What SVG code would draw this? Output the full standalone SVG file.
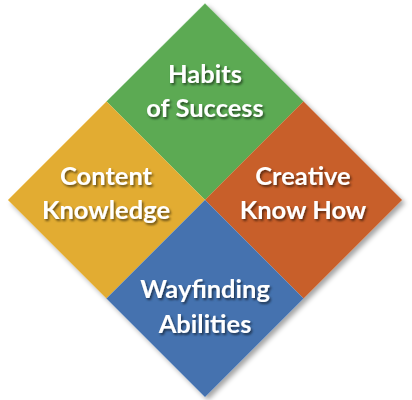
<svg xmlns="http://www.w3.org/2000/svg" width="412" height="400" viewBox="0 0 412 400">
<defs>
<filter id="boxShadow" x="-10%" y="-10%" width="125%" height="125%">
<feDropShadow dx="3" dy="3" stdDeviation="2.5" flood-color="#000" flood-opacity="0.35"/>
</filter>
<filter id="textShadow" x="-10%" y="-20%" width="130%" height="160%">
<feDropShadow dx="1.5" dy="2" stdDeviation="1.2" flood-color="#000" flood-opacity="0.55"/>
</filter>
<style>
.tile{stroke-width:1;stroke-opacity:0.35}
.lbl{font-family:Lato,"Liberation Sans",sans-serif;font-weight:bold;font-size:25.5px;fill:#fff;text-anchor:middle;filter:url(#textShadow)}
</style>
</defs>
<rect width="412" height="400" fill="#fff"/>
<g filter="url(#boxShadow)">
<g id="habits">
<polygon class="tile" points="205,3.5 303.5,101.5 205,200 106.5,101.5" fill="#5BAA53" stroke="#8fcc88"/>
<text class="lbl" x="205" y="83">Habits</text>
<text class="lbl" x="205" y="117">of Success</text>
</g>
<g id="content">
<polygon class="tile" points="106.5,101.5 205,200 106.5,298.5 8,200" fill="#E2AC31" stroke="#f5cf74"/>
<text class="lbl" x="106" y="185">Content</text>
<text class="lbl" x="106" y="219">Knowledge</text>
</g>
<g id="creative">
<polygon class="tile" points="303.5,101.5 402,200 303.5,298.5 205,200" fill="#C85E29" stroke="#e08a5e"/>
<text class="lbl" x="303" y="185">Creative</text>
<text class="lbl" x="303" y="219">Know How</text>
</g>
<g id="wayfinding">
<polygon class="tile" points="205,200 303.5,298.5 205,397 106.5,298.5" fill="#4472AF" stroke="#7ea3d6"/>
<text class="lbl" x="205" y="298">Wayfinding</text>
<text class="lbl" x="205" y="333">Abilities</text>
</g>
</g>
</svg>
